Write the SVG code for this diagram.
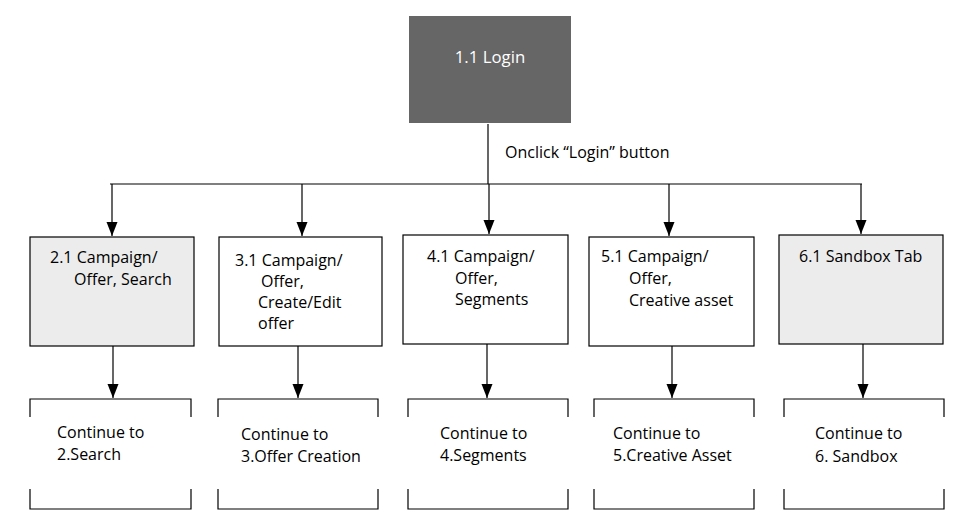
<svg xmlns="http://www.w3.org/2000/svg" width="964" height="526" viewBox="0 0 964 526">
<defs>
<style>
.box{stroke:#000;stroke-width:1.2;fill:#fff}
.gray{fill:#ececec}
.ln{stroke:#000;stroke-width:1.2;fill:none}
.t{font-family:"Open Sans","Noto Sans","Liberation Sans",sans-serif;font-size:16px;fill:#000}
.w{fill:#fff;font-size:16.8px}
</style>
<marker id="ah" markerUnits="userSpaceOnUse" markerWidth="15" markerHeight="12" refX="14" refY="5.5" orient="auto" viewBox="0 0 15 12">
<path d="M0,0 L14,5.5 L0,11 z" fill="#000"/>
</marker>
</defs>
<rect width="964" height="526" fill="#fff"/>
<g id="connectors">
<line class="ln" x1="488" y1="124" x2="488" y2="184"/>
<line class="ln" x1="110" y1="184" x2="862" y2="184"/>
<line class="ln" x1="112" y1="184" x2="112" y2="236" marker-end="url(#ah)"/>
<line class="ln" x1="302" y1="184" x2="302" y2="236" marker-end="url(#ah)"/>
<line class="ln" x1="489" y1="184" x2="489" y2="234" marker-end="url(#ah)"/>
<line class="ln" x1="669" y1="184" x2="669" y2="236" marker-end="url(#ah)"/>
<line class="ln" x1="861" y1="184" x2="861" y2="234" marker-end="url(#ah)"/>
<line class="ln" x1="113" y1="346" x2="113" y2="398" marker-end="url(#ah)"/>
<line class="ln" x1="298" y1="346" x2="298" y2="398" marker-end="url(#ah)"/>
<line class="ln" x1="487" y1="344" x2="487" y2="398" marker-end="url(#ah)"/>
<line class="ln" x1="672" y1="346" x2="672" y2="398" marker-end="url(#ah)"/>
<line class="ln" x1="863" y1="344" x2="863" y2="398" marker-end="url(#ah)"/>
<text class="t" x="505" y="158">Onclick “Login” button</text>
</g>
<g id="login">
<rect x="409" y="16" width="162" height="107" fill="#666666"/>
<text class="t w" x="490" y="63" text-anchor="middle">1.1 Login</text>
</g>
<g id="n21">
<rect class="box gray" x="30" y="237" width="164" height="109"/>
<text class="t" x="50" y="263">2.1 Campaign/</text>
<text class="t" x="74" y="285">Offer, Search</text>
</g>
<g id="n31">
<rect class="box" x="219" y="237" width="163" height="109"/>
<text class="t" x="235" y="266">3.1 Campaign/</text>
<text class="t" x="261" y="287">Offer,</text>
<text class="t" x="258" y="308">Create/Edit</text>
<text class="t" x="258" y="329">offer</text>
</g>
<g id="n41">
<rect class="box" x="403" y="235" width="165" height="109"/>
<text class="t" x="427" y="262">4.1 Campaign/</text>
<text class="t" x="455" y="284">Offer,</text>
<text class="t" x="455" y="305">Segments</text>
</g>
<g id="n51">
<rect class="box" x="589" y="237" width="165" height="109"/>
<text class="t" x="601" y="262">5.1 Campaign/</text>
<text class="t" x="629" y="284">Offer,</text>
<text class="t" x="629" y="306">Creative asset</text>
</g>
<g id="n61">
<rect class="box gray" x="779" y="235" width="164" height="109"/>
<text class="t" x="799" y="262">6.1 Sandbox Tab</text>
</g>
<g id="c2">
<path class="ln" d="M30,417 V399 H191 V417 M30,489 V509 H191 V489"/>
<text class="t" x="57" y="438">Continue to</text>
<text class="t" x="57" y="460">2.Search</text>
</g>
<g id="c3">
<path class="ln" d="M218,417 V399 H378 V417 M218,489 V509 H378 V489"/>
<text class="t" x="241" y="440">Continue to</text>
<text class="t" x="241" y="462">3.Offer Creation</text>
</g>
<g id="c4">
<path class="ln" d="M408,417 V399 H568 V417 M408,489 V509 H568 V489"/>
<text class="t" x="440" y="439">Continue to</text>
<text class="t" x="440" y="461">4.Segments</text>
</g>
<g id="c5">
<path class="ln" d="M594,417 V399 H754 V417 M594,489 V509 H754 V489"/>
<text class="t" x="613" y="439">Continue to</text>
<text class="t" x="613" y="461">5.Creative Asset</text>
</g>
<g id="c6">
<path class="ln" d="M784,417 V399 H944 V417 M784,489 V509 H944 V489"/>
<text class="t" x="815" y="439">Continue to</text>
<text class="t" x="815" y="462">6. Sandbox</text>
</g>
</svg>
